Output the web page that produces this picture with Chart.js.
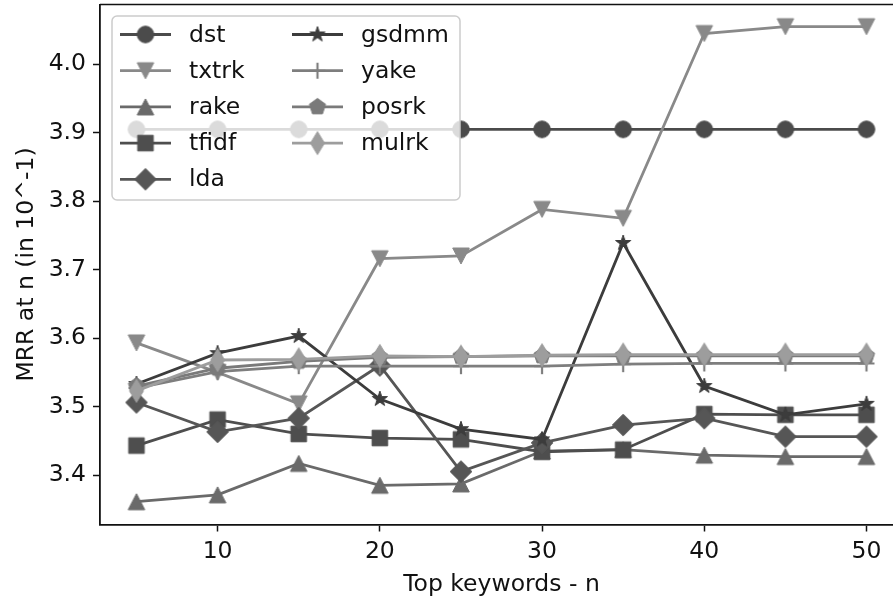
<!DOCTYPE html>
<html>
<head>
<meta charset="utf-8">
<script src="https://cdn.jsdelivr.net/npm/chart.js@4.4.0/dist/chart.umd.min.js"></script>
<style>
  html, body { margin: 0; padding: 0; background: #fff; overflow: hidden; }
  #mrrChart { display: block; }
</style>
</head>
<body>
<canvas id="mrrChart" width="906" height="600"></canvas>
<script>
// top-n keyword counts on the x axis
const topN = [5, 10, 15, 20, 25, 30, 35, 40, 45, 50];

// MRR at n (in 10^-1) for each method
const dst   = [3.905, 3.905, 3.905, 3.905, 3.905, 3.905, 3.905, 3.905, 3.905, 3.905];
const txtrk = [3.593, 3.550, 3.504, 3.716, 3.720, 3.788, 3.775, 4.045, 4.055, 4.055];
const rake  = [3.361, 3.371, 3.417, 3.385, 3.387, 3.435, 3.437, 3.429, 3.427, 3.427];
const tfidf = [3.443, 3.481, 3.460, 3.454, 3.452, 3.434, 3.437, 3.489, 3.488, 3.488];
const lda   = [3.506, 3.463, 3.483, 3.560, 3.405, 3.447, 3.473, 3.483, 3.456, 3.456];
const gsdmm = [3.533, 3.578, 3.603, 3.511, 3.467, 3.452, 3.739, 3.530, 3.488, 3.504];
const yake  = [3.527, 3.551, 3.559, 3.559, 3.559, 3.559, 3.562, 3.563, 3.563, 3.563];
const posrk = [3.530, 3.556, 3.566, 3.572, 3.573, 3.574, 3.574, 3.574, 3.574, 3.574];
const mulrk = [3.523, 3.568, 3.569, 3.574, 3.573, 3.575, 3.576, 3.576, 3.576, 3.576];

const xTicks = [10, 20, 30, 40, 50];
const yTicks = [3.4, 3.5, 3.6, 3.7, 3.8, 3.9, 4.0];

const FONT = "'DejaVu Sans', sans-serif";

// plot box in canvas pixels (right edge runs past the visible page)
const BOX = { left: 100, top: 4.5, right: 903, bottom: 524.5 };

// small offscreen canvases used as point markers (and in the legend)
function makeMarker(shape, color) {
  const c = document.createElement("canvas");
  c.width = 28; c.height = 28;
  const g = c.getContext("2d");
  g.translate(14, 14);
  g.fillStyle = color;
  g.strokeStyle = color;
  g.lineWidth = 1;
  g.lineJoin = "miter";
  g.beginPath();
  if (shape === "circle") {
    g.arc(0, 0, 8.3, 0, Math.PI * 2);
  } else if (shape === "triDown") {
    g.moveTo(-8.3, -8); g.lineTo(8.3, -8); g.lineTo(0, 8);
  } else if (shape === "triUp") {
    g.moveTo(0, -8); g.lineTo(8.3, 8); g.lineTo(-8.3, 8);
  } else if (shape === "square") {
    g.rect(-7.8, -7.8, 15.6, 15.6);
  } else if (shape === "diamond") {
    g.moveTo(0, -10.8); g.lineTo(10.8, 0); g.lineTo(0, 10.8); g.lineTo(-10.8, 0);
  } else if (shape === "star") {
    for (let i = 0; i < 10; i++) {
      const r = i % 2 === 0 ? 8 : 3.1;
      const a = -Math.PI / 2 + i * Math.PI / 5;
      if (i === 0) g.moveTo(r * Math.cos(a), r * Math.sin(a));
      else g.lineTo(r * Math.cos(a), r * Math.sin(a));
    }
  } else if (shape === "pentagon") {
    for (let i = 0; i < 5; i++) {
      const a = -Math.PI / 2 + i * 2 * Math.PI / 5;
      if (i === 0) g.moveTo(8.5 * Math.cos(a), 8.5 * Math.sin(a));
      else g.lineTo(8.5 * Math.cos(a), 8.5 * Math.sin(a));
    }
  } else if (shape === "thinDiamond") {
    g.moveTo(0, -11.5); g.lineTo(7, 0); g.lineTo(0, 11.5); g.lineTo(-7, 0);
  }
  if (shape === "plus") {
    g.lineWidth = 2.2;
    g.moveTo(-8, 0); g.lineTo(8, 0);
    g.moveTo(0, -8); g.lineTo(0, 8);
    g.stroke();
    return c;
  }
  g.closePath();
  g.fill();
  g.stroke();
  return c;
}

const series = [
  { label: "dst",   data: dst,   color: "#4b4b4b", shape: "circle" },
  { label: "txtrk", data: txtrk, color: "#898989", shape: "triDown" },
  { label: "rake",  data: rake,  color: "#6a6a6a", shape: "triUp" },
  { label: "tfidf", data: tfidf, color: "#4e4e4e", shape: "square" },
  { label: "lda",   data: lda,   color: "#565656", shape: "diamond" },
  { label: "gsdmm", data: gsdmm, color: "#3c3c3c", shape: "star" },
  { label: "yake",  data: yake,  color: "#7e7e7e", shape: "plus" },
  { label: "posrk", data: posrk, color: "#7a7a7a", shape: "pentagon" },
  { label: "mulrk", data: mulrk, color: "#9d9d9d", shape: "thinDiamond" }
];

series.forEach(s => { s.marker = makeMarker(s.shape, s.color); });

const LINE_W = 2.8;

const datasets = series.map((s, i) => ({
  label: s.label,
  data: topN.map((n, j) => ({ x: n, y: s.data[j] })),
  borderColor: s.color,
  backgroundColor: s.color,
  borderWidth: LINE_W,
  pointStyle: s.marker,
  pointRadius: 8,
  pointHoverRadius: 8,
  tension: 0,
  clip: false,
  // later series sit on top
  order: series.length - i
}));

// pin the plot box to fixed pixels after Chart.js has done its layout
const fixedBox = {
  id: "fixedBox",
  afterLayout(chart) {
    const a = chart.chartArea;
    a.left = BOX.left; a.top = BOX.top; a.right = BOX.right; a.bottom = BOX.bottom;
    a.width = BOX.right - BOX.left; a.height = BOX.bottom - BOX.top;
    const x = chart.scales.x, y = chart.scales.y;
    x.left = BOX.left; x.right = BOX.right; x.width = a.width;
    x.top = BOX.bottom; x.bottom = chart.height; x.height = chart.height - BOX.bottom;
    y.left = 0; y.right = BOX.left; y.width = BOX.left;
    y.top = BOX.top; y.bottom = BOX.bottom; y.height = a.height;
    x.configure();
    y.configure();
  }
};

// matplotlib-like legend box (semi-transparent) plus top spine
const legendAndFrame = {
  id: "legendAndFrame",
  afterDatasetsDraw(chart) {
    const { ctx, chartArea: a } = chart;
    ctx.save();
    ctx.strokeStyle = "#111";
    ctx.lineWidth = 1.6;
    ctx.beginPath();
    ctx.moveTo(a.left, a.top);
    ctx.lineTo(a.right, a.top);
    ctx.lineTo(a.right, a.bottom);
    ctx.stroke();

    // legend frame
    const bx = 112, by = 16, bw = 348, bh = 184;
    ctx.beginPath();
    ctx.roundRect(bx, by, bw, bh, 5);
    ctx.fillStyle = "rgba(255,255,255,0.8)";
    ctx.fill();
    ctx.strokeStyle = "#cccccc";
    ctx.lineWidth = 1.5;
    ctx.stroke();

    ctx.font = "23.5px " + FONT;
    ctx.textBaseline = "middle";
    ctx.textAlign = "left";
    series.forEach((s, i) => {
      const col = i < 5 ? 0 : 1;
      const row = i < 5 ? i : i - 5;
      const x0 = col === 0 ? 120 : 292;
      const y = 34.5 + row * 36.2;
      ctx.strokeStyle = s.color;
      ctx.lineWidth = LINE_W;
      ctx.beginPath();
      ctx.moveTo(x0, y);
      ctx.lineTo(x0 + 51, y);
      ctx.stroke();
      ctx.drawImage(s.marker, x0 + 25.5 - 14, y - 14);
      ctx.fillStyle = "#111";
      ctx.fillText(s.label, x0 + 69, y + 1);
    });
    ctx.restore();
  }
};

const tickFont = { family: FONT, size: 23.5 };

new Chart(document.getElementById("mrrChart"), {
  type: "line",
  data: { datasets },
  plugins: [fixedBox, legendAndFrame],
  options: {
    responsive: false,
    animation: false,
    events: [],
    plugins: { legend: { display: false }, tooltip: { enabled: false } },
    scales: {
      x: {
        type: "linear",
        min: 2.75,
        max: 52.25,
        afterBuildTicks: sc => { sc.ticks = xTicks.map(v => ({ value: v })); },
        grid: { drawOnChartArea: false, drawTicks: true, tickLength: 7, tickWidth: 1.5, color: "#111" },
        border: { display: true, color: "#111", width: 1.8 },
        ticks: { font: tickFont, color: "#111", padding: 6, maxRotation: 0 },
        title: { display: true, text: "Top keywords - n", font: tickFont, color: "#111", padding: { top: 0, bottom: 1 } }
      },
      y: {
        type: "linear",
        min: 3.3277,
        max: 4.0874,
        afterBuildTicks: sc => { sc.ticks = yTicks.map(v => ({ value: v })); },
        grid: { drawOnChartArea: false, drawTicks: true, tickLength: 7, tickWidth: 1.5, color: "#111" },
        border: { display: true, color: "#111", width: 1.8 },
        ticks: { font: tickFont, color: "#111", padding: 7, callback: v => v.toFixed(1) },
        title: { display: true, text: "MRR at n (in 10^-1)", font: tickFont, color: "#111", padding: { top: 13, bottom: 0 } }
      }
    }
  }
});
</script>
</body>
</html>
